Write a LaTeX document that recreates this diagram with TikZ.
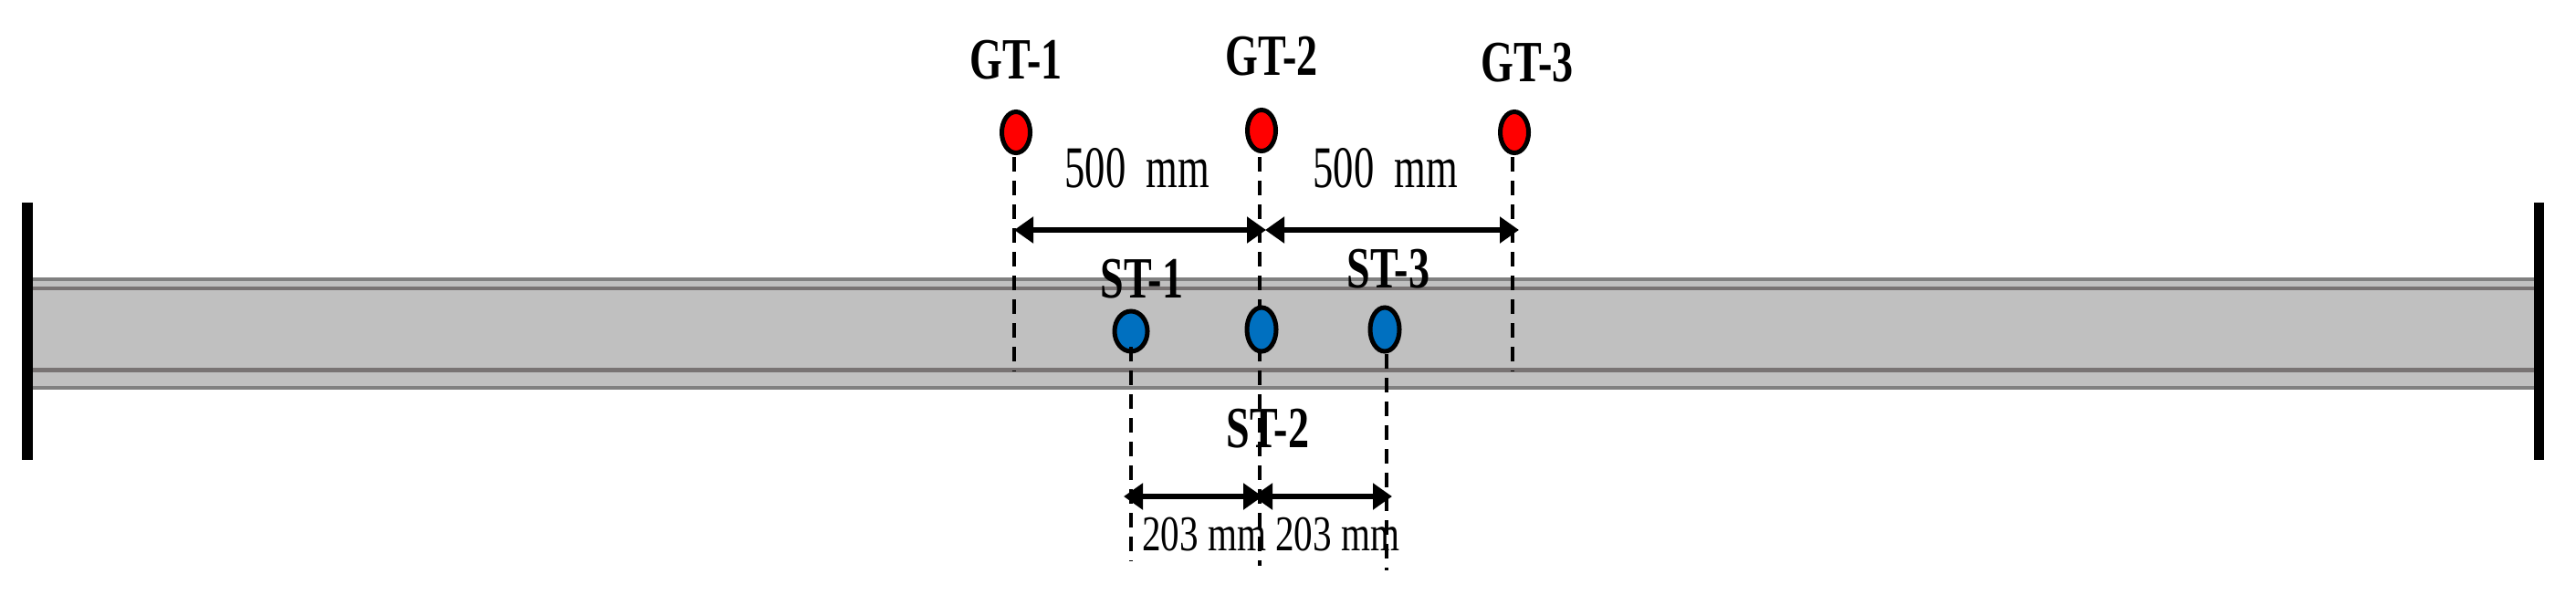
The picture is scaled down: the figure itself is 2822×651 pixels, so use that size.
\documentclass[tikz,border=0pt]{standalone}
\usepackage{fontspec}
\setmainfont{Liberation Serif}
\newfontfamily\labelfont[FakeStretch=0.72]{Liberation Serif}
\newfontfamily\narrowfont[FakeStretch=0.69]{Liberation Serif}
\newfontfamily\smallfont[FakeStretch=0.75]{Liberation Serif}
\usetikzlibrary{shapes.geometric}
\usetikzlibrary{arrows.meta}
\definecolor{beamgray}{HTML}{C0C0C0}
\definecolor{edgegray}{HTML}{808080}
\definecolor{ribgray}{HTML}{787373}
\definecolor{stblue}{HTML}{0070C0}
\tikzset{
  gtdot/.style={ellipse, draw=black, fill=red, line width=0.05cm, inner sep=0pt, minimum width=0.31cm, minimum height=0.45cm},
  stdot/.style={ellipse, draw=black, fill=stblue, line width=0.05cm, inner sep=0pt, minimum width=0.32cm, minimum height=0.48cm},
  sensorlabel/.style={inner sep=0pt, font=\labelfont\bfseries\fontsize{18.2}{20}\selectfont},
  bigdim/.style={inner sep=0pt, font=\narrowfont\fontsize{18.4}{20}\selectfont},
  smalldim/.style={inner sep=0pt, font=\smallfont\fontsize{15.6}{18}\selectfont},
  dropline/.style={draw=black, line width=0.045cm, dash pattern=on 0.155cm off 0.105cm},
  dimarrow/.style={draw=black, line width=0.065cm, {Triangle[length=0.21cm,width=0.28cm]}-{Triangle[length=0.21cm,width=0.28cm]}}
}

\begin{document}
\begin{tikzpicture}[x=0.01cm,y=-0.01cm]
\useasboundingbox (0,0) rectangle (2822,651);
%% The beam, with its two edge strips and two inner ribs
\fill[beamgray] (36,304) rectangle (2776,427);
\fill[edgegray] (36,304) rectangle (2776,308);
\fill[ribgray] (36,314) rectangle (2776,318);
\fill[ribgray] (36,403) rectangle (2776,408);
\fill[edgegray] (36,423) rectangle (2776,427);
%% Supports at both ends
\fill[black] (24,222) rectangle (36,504);
\fill[black] (2776,222) rectangle (2787,504);
%% Free ends of the dashed lines and of the dimension arrows
\coordinate (gt1top) at (1111,172);
\coordinate (gt2top) at (1380,172);
\coordinate (gt3top) at (1657,172);
\coordinate (gt1end) at (1111,407);
\coordinate (gt3end) at (1657,407);
\coordinate (st2end) at (1380,620);
\coordinate (st1top) at (1239,380);
\coordinate (st1end) at (1239,615);
\coordinate (st3top) at (1519,388);
\coordinate (st3end) at (1519,625);
\coordinate (gtdimA) at (1111,252);
\coordinate (gtdimB) at (1387,252);
\coordinate (gtdimC) at (1386,252);
\coordinate (gtdimD) at (1664,252);
\coordinate (stdimA) at (1231,544);
\coordinate (stdimB) at (1383,544);
\coordinate (stdimC) at (1373,544);
\coordinate (stdimD) at (1525,544);
%% ST-1 goes under its dashed line, the other dots go over theirs
\node[stdot, minimum width=0.36cm, minimum height=0.44cm] (st1) at (1239,363) {};
\draw[dropline] (gt1top) -- (gt1end);
\draw[dropline] (gt2top) -- (st2end);
\draw[dropline] (gt3top) -- (gt3end);
\draw[dropline] (st1top) -- (st1end);
\draw[dropline] (st3top) -- (st3end);
\node[gtdot] (gt1) at (1113,145) {};
\node[gtdot] (gt2) at (1382,143) {};
\node[gtdot] (gt3) at (1659,145) {};
\node[stdot] (st2) at (1382,361) {};
\node[stdot] (st3) at (1517,361) {};
%% Dimension arrows
\draw[dimarrow] (gtdimA) -- (gtdimB);
\draw[dimarrow] (gtdimC) -- (gtdimD);
\draw[dimarrow] (stdimA) -- (stdimB);
\draw[dimarrow] (stdimC) -- (stdimD);
%% Labels
\node[sensorlabel] (gt1label) at (1113,66) {GT-1};
\node[sensorlabel] (gt2label) at (1393,62) {GT-2};
\node[sensorlabel] (gt3label) at (1673,69) {GT-3};
\node[sensorlabel] (st1label) at (1251,306) {ST-1};
\node[sensorlabel] (st2label) at (1389,470) {ST-2};
\node[sensorlabel] (st3label) at (1521,295) {ST-3};
\node[bigdim] (gapA) at (1246,184) {500\ \ mm};
\node[bigdim] (gapB) at (1518,184) {500\ \ mm};
\node[smalldim] (spanA) at (1319,586) {203 mm};
\node[smalldim] (spanB) at (1465,586) {203 mm};
\end{tikzpicture}
\end{document}
